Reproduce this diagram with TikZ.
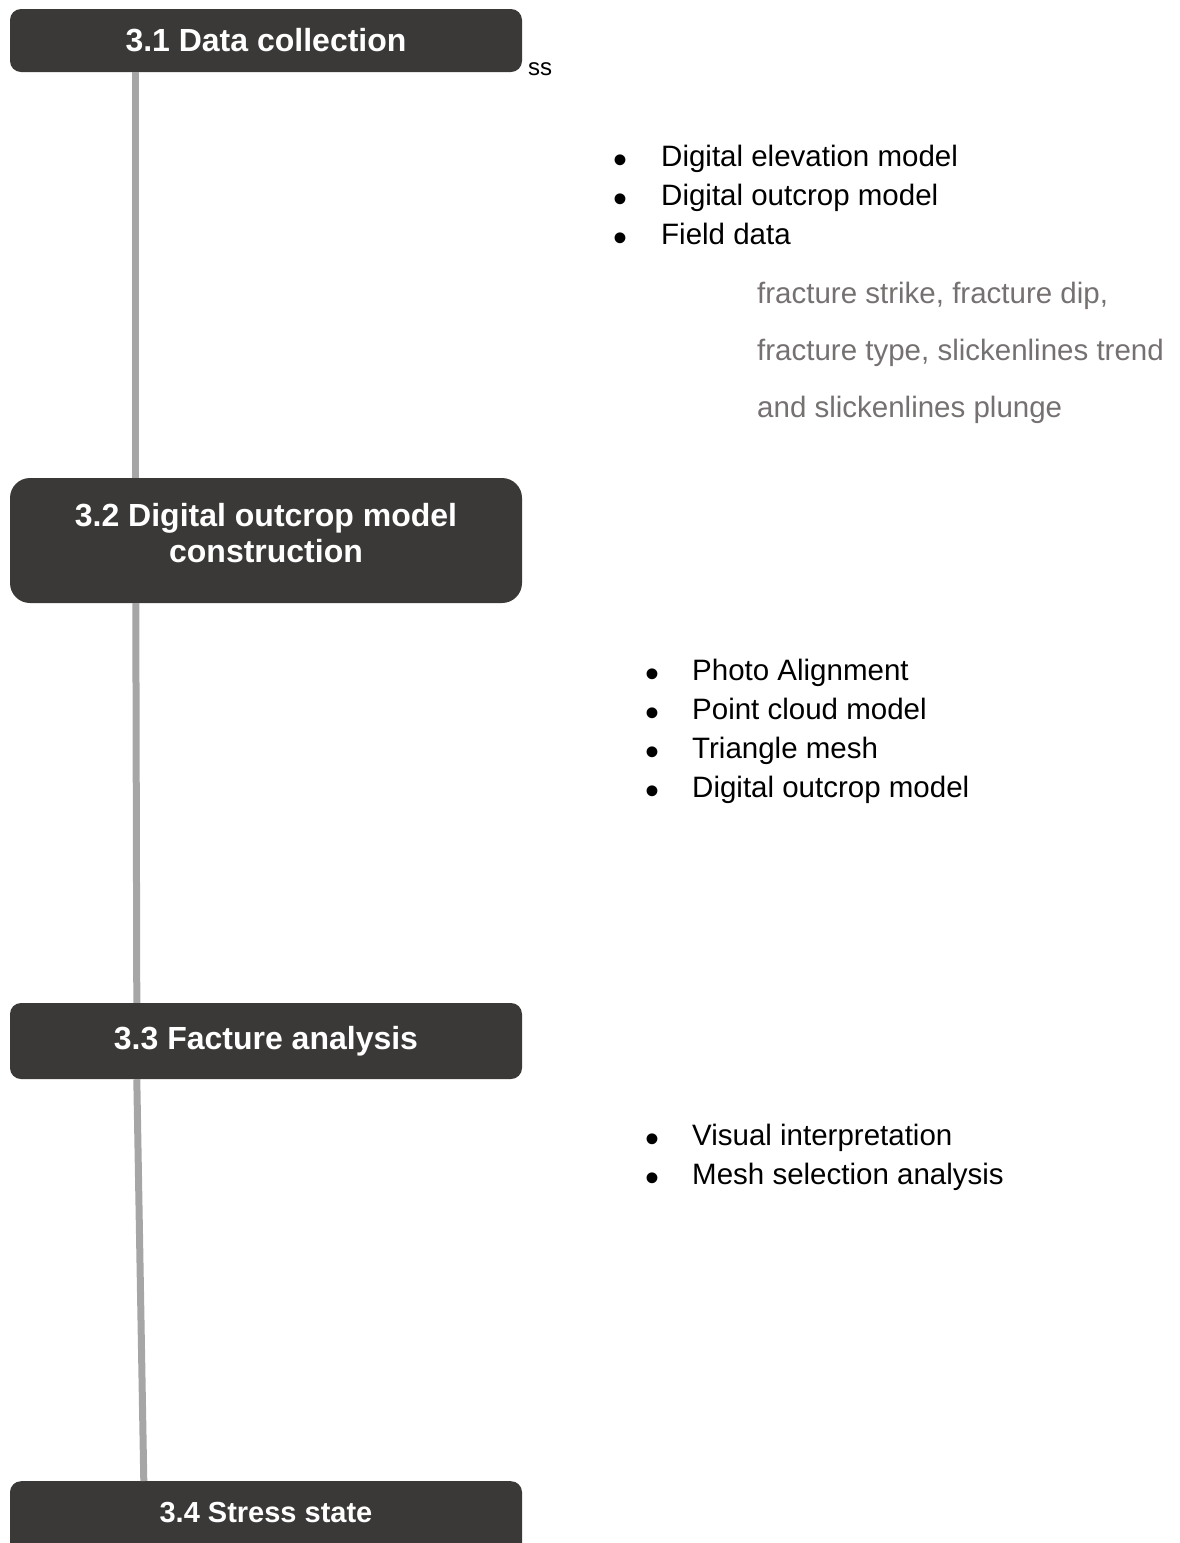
\documentclass[tikz,border=0pt]{standalone}
\usepackage{fontspec}
\setmainfont{Liberation Sans}
\usepackage{tikz}
\usetikzlibrary{positioning}

\definecolor{boxfill}{HTML}{3B3937}
\definecolor{stemgray}{HTML}{A6A6A6}
\definecolor{notegray}{HTML}{767171}
\newcommand{\bigdot}{\raisebox{-7pt}{\scalebox{1.35}{\textbullet}}}

\begin{document}
\begin{tikzpicture}[x=1pt,y=-1pt]
    \clip (0,0) rectangle (1179,1543);

        % the four stage boxes, use the tuple for location
        \begin{scope}[every node/.style={fill=boxfill, text=white, rounded corners=11pt,
                  minimum width=512pt, inner sep=0pt, align=center,
                  font=\fontsize{32}{36}\selectfont\bfseries}]
        \node (A) [minimum height=63pt] at (266,40.5) {3.1 Data collection};
        \node (B) [minimum height=125pt, rounded corners=20pt, text depth=16pt] at (266,540.5) {3.2 Digital outcrop model\\construction};
        \node (C) [minimum height=76pt] at (266,1041) {3.3 Facture analysis};
        \node (D) [minimum height=80pt, text depth=18pt, anchor=north,
                   font=\fontsize{29}{34}\selectfont\bfseries] at (266,1481) {3.4 Stress state};
        \end{scope}

        % stray text next to the first box
        \node (S) [anchor=base west, inner sep=0pt, font=\fontsize{24}{28}\selectfont] at (528,75) {ss};

        % bullet lists
        \begin{scope}[every node/.style={anchor=base west, inner sep=0pt,
                  font=\fontsize{29.5}{39}\selectfont}]
        \node (L1) at (613,166) {\begin{tabular}[t]{@{}l@{}}
            \makebox[48pt][l]{\bigdot}Digital elevation model\\
            \makebox[48pt][l]{\bigdot}Digital outcrop model\\
            \makebox[48pt][l]{\bigdot}Field data\end{tabular}};
        \node (L2) at (645,680) {\begin{tabular}[t]{@{}l@{}}
            \makebox[47pt][l]{\bigdot}Photo Alignment\\
            \makebox[47pt][l]{\bigdot}Point cloud model\\
            \makebox[47pt][l]{\bigdot}Triangle mesh\\
            \makebox[47pt][l]{\bigdot}Digital outcrop model\end{tabular}};
        \node (L3) at (645,1145) {\begin{tabular}[t]{@{}l@{}}
            \makebox[47pt][l]{\bigdot}Visual interpretation\\
            \makebox[47pt][l]{\bigdot}Mesh selection analysis\end{tabular}};
        \node (N) [text=notegray, font=\fontsize{29.5}{57}\selectfont] at (757,303) {\begin{tabular}[t]{@{}l@{}}
            fracture strike, fracture dip,\\
            fracture type, slickenlines trend\\
            and slickenlines plunge\end{tabular}};
        \end{scope}

        % grey stems between the boxes
        \begin{scope}[every path/.style={draw=stemgray, line width=7pt}]
        \path ([xshift=126pt]A.south west) -- ([xshift=126pt]B.north west);
        \path ([xshift=126pt]B.south west) -- ([xshift=127pt]C.north west);
        \path ([xshift=127pt]C.south west) -- ([xshift=134pt]D.north west);
        \end{scope}

\end{tikzpicture}
\end{document}
